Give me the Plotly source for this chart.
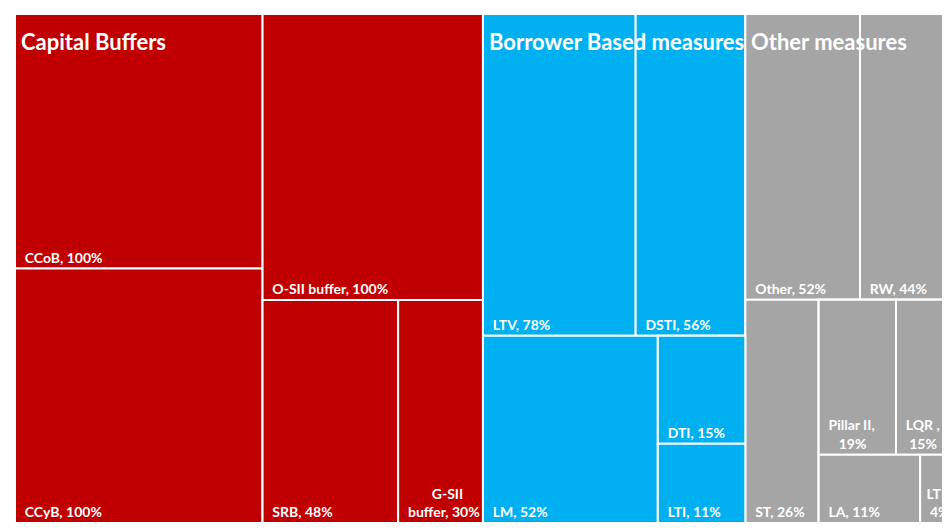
import plotly.graph_objects as go

# ---- data ----
groups = ["Capital Buffers", "Borrower Based measures", "Other measures"]
group_colors = ["#C00000", "#00B0F0", "#A5A5A5"]

cap_labels = ["CCoB", "CCyB", "O-SII buffer", "SRB", "G-SII buffer"]
cap_values = [100, 100, 100, 48, 30]
cap_text = ["CCoB, 100%", "CCyB, 100%", "O-SII buffer, 100%", "SRB, 48%",
            "&nbsp;&nbsp;&nbsp;&nbsp;&nbsp;&nbsp;&nbsp;G-SII<br>buffer, 30%"]

bbm_labels = ["LTV", "DSTI", "LM", "DTI", "LTI"]
bbm_values = [78, 56, 52, 15, 11]
bbm_text = ["LTV, 78%", "DSTI, 56%", "LM, 52%", "DTI, 15%", "LTI, 11%"]

oth_labels = ["Other", "RW", "ST", "Pillar II", "LQR", "LA", "LTD"]
oth_values = [52, 44, 26, 19, 15, 11, 4]
oth_text = ["Other, 52%", "RW, 44%", "ST, 26%", "Pillar II,<br>&nbsp;&nbsp;&nbsp;19%",
            "LQR ,<br>&nbsp;15%", "LA, 11%", "LTD<br>&nbsp;4%"]

# how the tiles are nested inside each group (block layout of the original)
cap_nest = ["W/A", "W/A", "W/B", "W/B/C", "W/B/C"]
bbm_nest = ["T", "T", "U", "U/V", "U/V"]
oth_nest = ["T", "T", "U", "U/V/P", "U/V/P", "U/V/Q", "U/V/Q"]

ids, labels, parents, values, texts, colors = [], [], [], [], [], []


def add(node_id, label, parent, value, text, color):
    ids.append(node_id); labels.append(label); parents.append(parent)
    values.append(value); texts.append(text); colors.append(color)


def build(group, color, ls, vs, ts, nest):
    add(group, group, "", sum(vs), "", color)
    seen = set()
    for l, v, t, n in zip(ls, vs, ts, nest):
        parts = n.split("/")
        for k in range(1, len(parts) + 1):
            p = "/".join(parts[:k])
            if p in seen:
                continue
            seen.add(p)
            tot = sum(vv for vv, nn in zip(vs, nest) if nn == p or nn.startswith(p + "/"))
            par = group if k == 1 else group + "/" + "/".join(parts[:k - 1])
            add(group + "/" + p, "", par, tot, "", color)
        lead = "&nbsp;" if v < 10 else "&nbsp;&nbsp;"
        add(group + "/" + n + "/" + l, l, group + "/" + n, v,
            "<b>" + lead + t.replace("<br>", "<br>" + lead) + "</b>", color)


build(groups[0], group_colors[0], cap_labels, cap_values, cap_text, cap_nest)
build(groups[1], group_colors[1], bbm_labels, bbm_values, bbm_text, bbm_nest)
build(groups[2], group_colors[2], oth_labels, oth_values, oth_text, oth_nest)

fig = go.Figure(go.Treemap(
    ids=ids, labels=labels, parents=parents, values=values,
    branchvalues="total",
    text=texts, texttemplate="%{text}",
    textposition="bottom left",
    marker=dict(colors=colors, line=dict(color="white", width=2), pad=dict(t=0, l=0, r=0, b=0)),
    textfont=dict(family="Lato", size=14, color="white"),
    tiling=dict(packing="slice-dice", pad=0),
    sort=False,
    pathbar=dict(visible=False),
    hoverinfo="label+value",
))

# group titles at the top-left of each group column
totals = [sum(cap_values), sum(bbm_values), sum(oth_values)]
grand = sum(totals)
cum = 0
for g, t in zip(groups, totals):
    fig.add_annotation(x=cum / grand, y=1, xref="paper", yref="paper",
                       xanchor="left", yanchor="top", xshift=4, yshift=-12,
                       text="<b>" + g + "</b>", showarrow=False,
                       font=dict(family="Lato", size=22, color="white"))
    cum += t

fig.update_layout(
    width=949, height=515,
    margin=dict(l=7, r=0, t=6, b=0),
    paper_bgcolor="white",
)
fig.write_html("out.html")
